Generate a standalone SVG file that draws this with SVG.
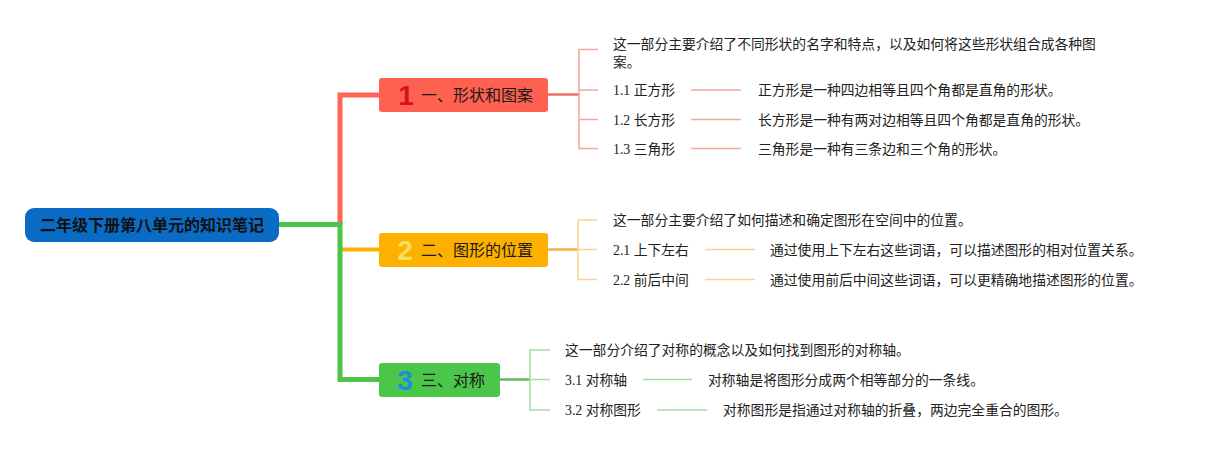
<svg xmlns="http://www.w3.org/2000/svg" width="1208" height="450" viewBox="0 0 1208 450">
<style>
.root-t{font-family:"Liberation Sans","Noto Sans CJK SC",sans-serif;font-size:16px;font-weight:bold;fill:#111;}
.br-t{font-family:"Liberation Sans","Noto Sans CJK SC",sans-serif;font-size:16px;fill:#1a1a1a;}
.num{font-family:"Liberation Sans Narrow","Liberation Sans","DejaVu Sans",sans-serif;font-size:28px;font-weight:bold;text-anchor:middle;}
.leaf{font-family:"Liberation Serif","Noto Sans CJK SC",serif;font-size:13.8px;fill:#222;}
.c{fill:none;stroke-linecap:butt;}
.red{stroke:#fd6656;stroke-width:5;}
.org{stroke:#ffb000;stroke-width:4;}
.grn{stroke:#4cc447;stroke-width:5;}
.redl{stroke:#f3a99f;stroke-width:1.6;}
.orgl{stroke:#f8d68f;stroke-width:1.6;}
.grnl{stroke:#a8dca2;stroke-width:1.6;}
</style>
<rect width="1208" height="450" fill="#ffffff"/>
<g id="connectors">
  <path class="c red" d="M340 224 V95 H380"/>
  <path class="c org" d="M340 249.5 H380"/>
  <path class="c grn" d="M279 224.5 H340 V379.5 H380"/>
  <path class="c" stroke="#f06f60" stroke-width="2.5" d="M548 94.5 H579"/>
  <path class="c redl" d="M598 49.5 H579 V148.5 H598 M579 90 H598 M579 119.5 H598"/>
  <path class="c redl" d="M691 90 H741 M691 119.5 H741 M691 148.5 H741"/>
  <path class="c" stroke="#f0b23a" stroke-width="2.5" d="M548 249.5 H578"/>
  <path class="c orgl" d="M597 220 H578 V279.5 H597 M578 249.5 H597"/>
  <path class="c orgl" d="M705 249.5 H755 M705 279.5 H755"/>
  <path class="c" stroke="#63b860" stroke-width="2.5" d="M500 379.5 H530"/>
  <path class="c grnl" d="M550 350 H530 V410 H550 M530 379.5 H550"/>
  <path class="c grnl" d="M643 379.5 H692 M657 410 H707"/>
</g>
<g id="root">
  <rect x="25" y="208" width="254" height="34" rx="9" fill="#0a6bc4"/>
  <text class="root-t" x="152" y="231" text-anchor="middle">二年级下册第八单元的知识笔记</text>
</g>
<g id="b1">
  <rect x="379" y="78" width="169" height="34" rx="3" fill="#fe6150"/>
  <text class="num" x="406" y="105" fill="#d8111e">1</text>
  <text class="br-t" x="421" y="101">一、形状和图案</text>
</g>
<g id="b2">
  <rect x="379" y="233" width="169" height="34" rx="3" fill="#feb000"/>
  <text class="num" x="405" y="260" fill="#f5e25f">2</text>
  <text class="br-t" x="421" y="256">二、图形的位置</text>
</g>
<g id="b3">
  <rect x="379" y="363" width="121" height="34" rx="3" fill="#4bc54a"/>
  <text class="num" x="405" y="390" fill="#1c8ee0">3</text>
  <text class="br-t" x="421" y="386">三、对称</text>
</g>
<g id="leaves1">
  <text class="leaf" x="613" y="48.5">这一部分主要介绍了不同形状的名字和特点，以及如何将这些形状组合成各种图</text>
  <text class="leaf" x="613" y="67">案。</text>
  <text class="leaf" x="613" y="95">1.1 正方形</text>
  <text class="leaf" x="758" y="95">正方形是一种四边相等且四个角都是直角的形状。</text>
  <text class="leaf" x="613" y="124.5">1.2 长方形</text>
  <text class="leaf" x="758" y="124.5">长方形是一种有两对边相等且四个角都是直角的形状。</text>
  <text class="leaf" x="613" y="153.5">1.3 三角形</text>
  <text class="leaf" x="758" y="153.5">三角形是一种有三条边和三个角的形状。</text>
</g>
<g id="leaves2">
  <text class="leaf" x="613" y="225">这一部分主要介绍了如何描述和确定图形在空间中的位置。</text>
  <text class="leaf" x="613" y="254.5">2.1 上下左右</text>
  <text class="leaf" x="770" y="254.5">通过使用上下左右这些词语，可以描述图形的相对位置关系。</text>
  <text class="leaf" x="613" y="284.5">2.2 前后中间</text>
  <text class="leaf" x="770" y="284.5">通过使用前后中间这些词语，可以更精确地描述图形的位置。</text>
</g>
<g id="leaves3">
  <text class="leaf" x="565" y="355">这一部分介绍了对称的概念以及如何找到图形的对称轴。</text>
  <text class="leaf" x="565" y="384.5">3.1 对称轴</text>
  <text class="leaf" x="708" y="384.5">对称轴是将图形分成两个相等部分的一条线。</text>
  <text class="leaf" x="565" y="415">3.2 对称图形</text>
  <text class="leaf" x="723" y="415">对称图形是指通过对称轴的折叠，两边完全重合的图形。</text>
</g>
</svg>
